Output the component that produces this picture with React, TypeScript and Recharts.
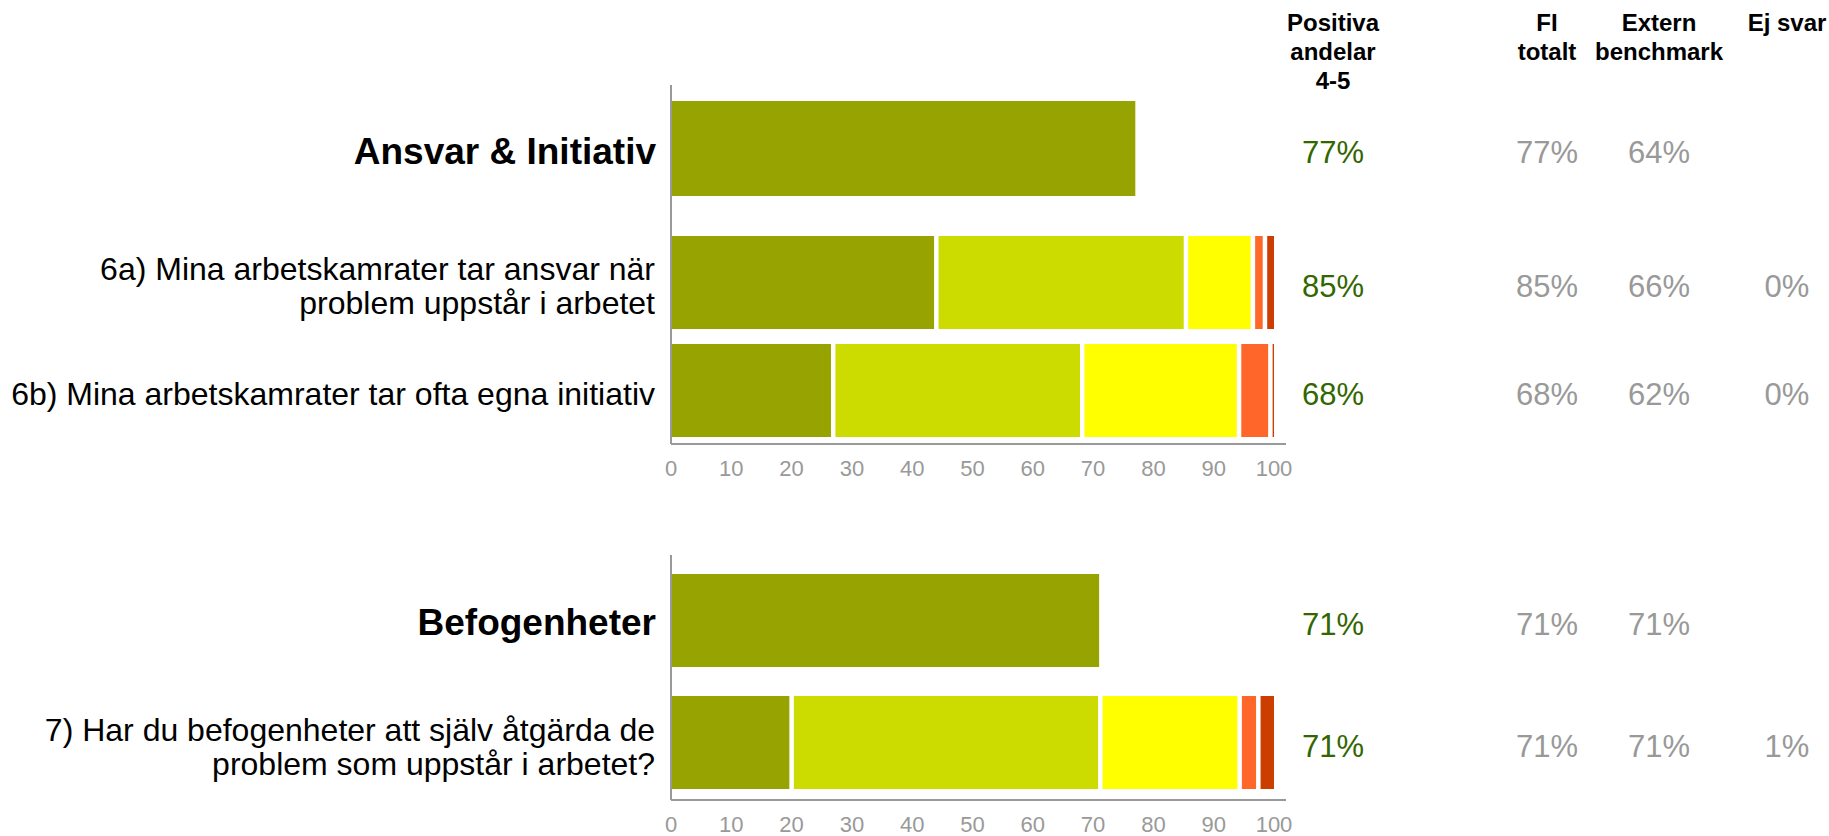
import React from 'react';
import { BarChart, Bar, XAxis, YAxis, LabelList } from 'recharts';

const FONT = '"Liberation Sans", Arial, Helvetica, sans-serif';

// headers of the figure columns on the right
const headerLabels = [['Positiva', 'andelar', '4-5'], ['FI', 'totalt'], ['Extern', 'benchmark'], ['Ej svar']];

// index areas (bold rows)
const groups = ['Ansvar & Initiativ', 'Befogenheter'];
const groupScore = [77, 71];
const groupFi = [77, 71];
const groupExtern = [64, 71];

// questions, \n marks a line break in the label
const questions = [
  '6a) Mina arbetskamrater tar ansvar när\nproblem uppstår i arbetet',
  '6b) Mina arbetskamrater tar ofta egna initiativ',
  '7) Har du befogenheter att själv åtgärda de\nproblem som uppstår i arbetet?',
];
// share of answers per grade in percent (5 = best)
const score5 = [44.0, 26.9, 20.0];
const score4 = [41.4, 41.3, 51.2];
const score3 = [11.1, 26.0, 23.1];
const score2 = [2.0, 5.2, 3.1];
const score1 = [1.5, 0.6, 2.6];
const positive = [85, 68, 71];
const fiTotal = [85, 68, 71];
const externBenchmark = [66, 62, 71];
const noAnswer = [0, 0, 1];

const xTicks = [0, 10, 20, 30, 40, 50, 60, 70, 80, 90, 100];

const COLORS = { s5: '#96A300', s4: '#CCDB00', s3: '#FFFF00', s2: '#FF6629', s1: '#CC3D00' };
const GREEN = '#336600';
const GREY = '#999999';
const COLUMN_X = [1333, 1547, 1659, 1787];

const W = 1829;
const AXIS_W = 671;
const MARGIN = { top: 0, right: 543, bottom: 0, left: 0 };

const groupRows = groups.map((name, i) => ({
  name,
  total: groupScore[i],
  positive: groupScore[i],
  fi: groupFi[i],
  extern: groupExtern[i],
  noAnswer: null as number | null,
}));

const questionRows = questions.map((name, i) => ({
  name,
  s5: score5[i],
  s4: score4[i],
  s3: score3[i],
  s2: score2[i],
  s1: score1[i],
  positive: positive[i],
  fi: fiTotal[i],
  extern: externBenchmark[i],
  noAnswer: noAnswer[i] as number | null,
}));

// rect with a white gap between stacked pieces
const segment = (first: boolean, last: boolean) => (p: any) => {
  const gap = 2.25;
  const x0 = p.x + (first ? 0 : gap);
  const x1 = p.x + p.width - (last ? 0 : gap);
  if (!(x1 > x0)) return <g />;
  return <rect x={x0} y={p.y} width={x1 - x0} height={p.height} fill={p.fill} />;
};

const CategoryTick = (props: any) => {
  const { x, y, payload, bold } = props;
  const lines = String(payload.value).split('\n');
  return (
    <text x={x} y={y} textAnchor="end" fontFamily={FONT} fontSize={bold ? 37 : 32} fontWeight={bold ? 700 : 400} fill="#000">
      {lines.map((l, i) => (
        <tspan key={i} x={x} y={y + 15 + (i - (lines.length - 1) / 2) * 34}>
          {l}
        </tspan>
      ))}
    </text>
  );
};

const ValueTick = (props: any) => (
  <text x={props.x} y={props.y} dy={16} textAnchor="middle" fontFamily={FONT} fontSize={22} fill={GREY}>
    {props.payload.value}
  </text>
);

const statsContent = (data: any[]) => (props: any) => {
  const vb = props.viewBox || props;
  const row = data[props.index];
  if (!row) return null;
  const base = vb.y + vb.height / 2 + 14.5;
  const vals = [row.positive, row.fi, row.extern, row.noAnswer];
  return (
    <g>
      {vals.map((v, i) =>
        v == null ? null : (
          <text key={i} x={COLUMN_X[i]} y={base} textAnchor="middle" fontFamily={FONT} fontSize={31} fill={i === 0 ? GREEN : GREY}>
            {v}%
          </text>
        )
      )}
    </g>
  );
};

const axisLine = { stroke: GREY, strokeWidth: 2 };

const GroupChart = ({ row, top, height, barSize }: any) => (
  <div style={{ position: 'absolute', left: 0, top }}>
    <BarChart width={W} height={height} data={[row]} layout="vertical" margin={MARGIN}>
      <XAxis type="number" domain={[0, 100]} hide padding={{ left: 0, right: 12 }} />
      <YAxis
        type="category"
        dataKey="name"
        width={AXIS_W}
        axisLine={axisLine}
        tickLine={false}
        tickSize={0}
        tickMargin={15}
        tick={(p: any) => <CategoryTick {...p} bold />}
      />
      <Bar dataKey="total" fill={COLORS.s5} barSize={barSize} isAnimationActive={false} shape={segment(true, true)}>
        <LabelList dataKey="total" content={statsContent([row])} />
      </Bar>
    </BarChart>
  </div>
);

const QuestionChart = ({ data, top, height, padTop, axisHeight }: any) => (
  <div style={{ position: 'absolute', left: 0, top }}>
    <BarChart width={W} height={height} data={data} layout="vertical" margin={MARGIN}>
      <XAxis
        type="number"
        domain={[0, 100]}
        ticks={xTicks}
        interval={0}
        height={axisHeight}
        padding={{ left: 0, right: 12 }}
        axisLine={axisLine}
        tickLine={false}
        tickSize={0}
        tickMargin={16}
        tick={<ValueTick />}
      />
      <YAxis
        type="category"
        dataKey="name"
        width={AXIS_W}
        padding={{ top: padTop, bottom: 0 }}
        axisLine={axisLine}
        tickLine={false}
        tickSize={0}
        tickMargin={16}
        tick={(p: any) => <CategoryTick {...p} />}
      />
      <Bar dataKey="s5" stackId="a" fill={COLORS.s5} barSize={93} isAnimationActive={false} shape={segment(true, false)} />
      <Bar dataKey="s4" stackId="a" fill={COLORS.s4} barSize={93} isAnimationActive={false} shape={segment(false, false)} />
      <Bar dataKey="s3" stackId="a" fill={COLORS.s3} barSize={93} isAnimationActive={false} shape={segment(false, false)} />
      <Bar dataKey="s2" stackId="a" fill={COLORS.s2} barSize={93} isAnimationActive={false} shape={segment(false, false)} />
      <Bar dataKey="s1" stackId="a" fill={COLORS.s1} barSize={93} isAnimationActive={false} shape={segment(false, true)}>
        <LabelList dataKey="s1" content={statsContent(data)} />
      </Bar>
    </BarChart>
  </div>
);

export default function App() {
  return (
    <div style={{ position: 'absolute', left: 0, top: 0, width: W, height: 836, background: '#fff', overflow: 'hidden', fontFamily: FONT }}>
      {headerLabels.map((lines, i) => (
        <div
          key={i}
          style={{
            position: 'absolute',
            left: COLUMN_X[i] - 100,
            top: 9,
            width: 200,
            textAlign: 'center',
            fontWeight: 700,
            fontSize: 24,
            lineHeight: '28.8px',
            color: '#000',
          }}
        >
          {lines.map((l) => (
            <div key={l}>{l}</div>
          ))}
        </div>
      ))}

      <GroupChart row={groupRows[0]} top={85} height={127} barSize={95} />
      <QuestionChart data={questionRows.slice(0, 2)} top={212} height={272} padTop={16} axisHeight={40} />

      <GroupChart row={groupRows[1]} top={555} height={130} barSize={93} />
      <QuestionChart data={questionRows.slice(2)} top={685} height={151} padTop={0} axisHeight={36} />
    </div>
  );
}
